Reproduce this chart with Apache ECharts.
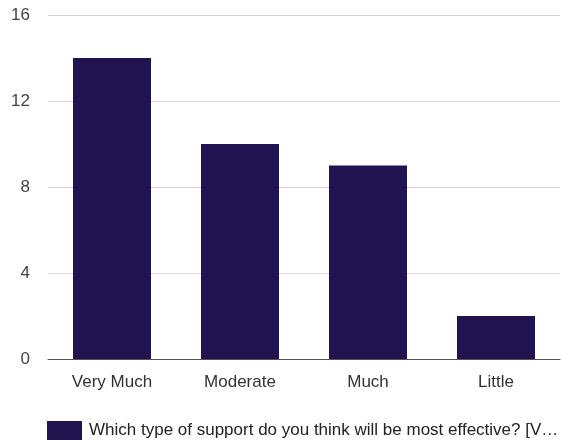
<!DOCTYPE html>
<html>
<head>
<meta charset="utf-8">
<script src="https://cdn.jsdelivr.net/npm/echarts@6/dist/echarts.min.js"></script>
<style>
html,body{margin:0;padding:0;background:#fff;}
#chart{width:563px;height:443px;}
</style>
</head>
<body>
<div id="chart"></div>
<script>
const categories = ["Very Much", "Moderate", "Much", "Little"];
const values = [14, 10, 9, 2];
const seriesName = "Which type of support do you think will be most effective? [V\u2026";
const yTicks = [0, 4, 8, 12, 16];

const chart = echarts.init(document.getElementById('chart'), null, {renderer: 'canvas'});
chart.setOption({
  animation: false,
  textStyle: {fontFamily: '"Liberation Sans", Arial, sans-serif'},
  grid: {left: 48, right: 3, top: 15, bottom: 84, containLabel: false},
  xAxis: {
    type: 'category',
    data: categories,
    axisLine: {lineStyle: {color: '#555', width: 1}},
    axisTick: {show: false},
    axisLabel: {color: '#333', fontSize: 17, margin: 15, fontFamily: '"Liberation Sans", Arial, sans-serif'}
  },
  yAxis: {
    type: 'value',
    min: yTicks[0],
    max: yTicks[yTicks.length - 1],
    interval: 4,
    axisLine: {show: false},
    axisTick: {show: false},
    axisLabel: {color: '#444', fontSize: 17, margin: 18, fontFamily: '"Liberation Sans", Arial, sans-serif'},
    splitLine: {lineStyle: {color: '#d6d6d6', width: 1}}
  },
  legend: {
    show: true,
    left: 42,
    top: 416,
    itemWidth: 35,
    itemHeight: 19,
    itemGap: 7,
    icon: 'rect',
    textStyle: {color: '#222', fontSize: 17, fontFamily: '"Liberation Sans", Arial, sans-serif', padding: [0, 0, 0, 2]},
    data: [seriesName]
  },
  series: [{
    name: seriesName,
    type: 'bar',
    data: values,
    barWidth: 78,
    itemStyle: {color: '#21134f'}
  }]
});
</script>
</body>
</html>
